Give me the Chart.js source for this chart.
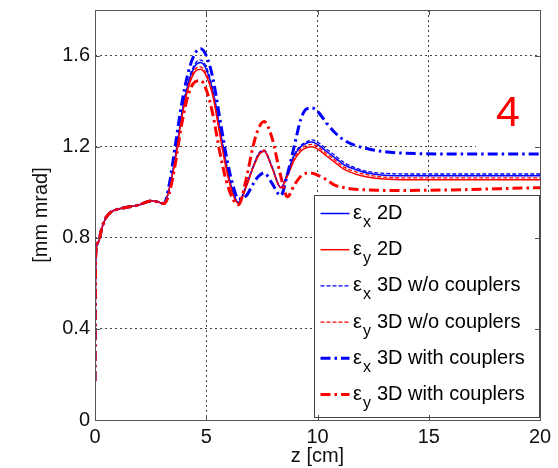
<!DOCTYPE html>
<html>
<head>
<meta charset="utf-8">
<script src="https://cdn.jsdelivr.net/npm/chart.js@4.4.1/dist/chart.umd.min.js"></script>
<style>
  html, body { margin: 0; padding: 0; background: #fff; }
  canvas { display: block; }
</style>
</head>
<body>
<canvas id="emittance" width="558" height="468"></canvas>
<script>
// z positions along the structure [cm]
const zPos = [0, 0.03, 0.15, 0.3, 0.5, 0.75, 1.0, 1.5, 2.0, 2.5, 2.8, 3.1, 3.35, 3.6, 3.9,
  4.2, 4.5, 4.75, 5.0, 5.3, 5.6, 5.9, 6.2, 6.45, 6.8, 7.1, 7.35, 7.6, 7.95, 8.35,
  8.65, 8.95, 9.25, 9.5, 9.75, 10.0, 10.4, 10.8, 11.2, 11.7, 12.3, 13.0, 14.0, 16.0, 18.0, 20.0];

// emittance [mm mrad]
const ex2D = [0.17, 0.72, 0.78, 0.84, 0.89, 0.915, 0.925, 0.935, 0.945, 0.962, 0.958, 0.95, 1.02, 1.15, 1.34,
  1.48, 1.555, 1.57, 1.54, 1.44, 1.28, 1.12, 1.0, 0.955, 1.03, 1.11, 1.165, 1.18, 1.11, 1.02,
  1.08, 1.16, 1.2, 1.215, 1.22, 1.21, 1.18, 1.15, 1.12, 1.1, 1.083, 1.075, 1.072, 1.072, 1.072, 1.072];
const ey2D = [0.17, 0.72, 0.78, 0.84, 0.89, 0.915, 0.925, 0.935, 0.945, 0.962, 0.958, 0.95, 1.02, 1.14, 1.33,
  1.46, 1.53, 1.54, 1.51, 1.42, 1.26, 1.1, 0.99, 0.95, 1.025, 1.105, 1.16, 1.18, 1.11, 1.02,
  1.07, 1.14, 1.18, 1.195, 1.2, 1.19, 1.16, 1.13, 1.1, 1.08, 1.066, 1.058, 1.055, 1.055, 1.055, 1.055];
const ex3D = [0.17, 0.72, 0.78, 0.84, 0.89, 0.915, 0.925, 0.935, 0.945, 0.962, 0.958, 0.95, 1.02, 1.15, 1.35,
  1.49, 1.565, 1.58, 1.55, 1.45, 1.29, 1.13, 1.0, 0.955, 1.03, 1.11, 1.17, 1.185, 1.115, 1.02,
  1.085, 1.165, 1.205, 1.22, 1.23, 1.22, 1.19, 1.16, 1.13, 1.107, 1.09, 1.083, 1.08, 1.08, 1.08, 1.08];
const ey3D = [0.17, 0.72, 0.78, 0.84, 0.89, 0.915, 0.925, 0.935, 0.945, 0.962, 0.958, 0.95, 1.02, 1.14, 1.33,
  1.47, 1.54, 1.55, 1.52, 1.43, 1.27, 1.11, 0.995, 0.95, 1.025, 1.11, 1.165, 1.185, 1.11, 1.02,
  1.075, 1.15, 1.19, 1.205, 1.21, 1.2, 1.17, 1.14, 1.11, 1.09, 1.075, 1.066, 1.063, 1.063, 1.063, 1.063];
const ex3Dc = [0.17, 0.72, 0.78, 0.84, 0.89, 0.915, 0.925, 0.935, 0.945, 0.962, 0.958, 0.95, 1.04, 1.2, 1.39,
  1.53, 1.61, 1.63, 1.6, 1.5, 1.33, 1.16, 1.03, 0.97, 0.985, 1.035, 1.07, 1.085, 1.04, 0.985,
  1.08, 1.2, 1.32, 1.365, 1.37, 1.355, 1.305, 1.26, 1.228, 1.205, 1.19, 1.178, 1.171, 1.168, 1.168, 1.168];
const ey3Dc = [0.17, 0.72, 0.78, 0.84, 0.89, 0.915, 0.925, 0.935, 0.945, 0.962, 0.958, 0.95, 1.0, 1.12, 1.3,
  1.43, 1.485, 1.49, 1.45, 1.34, 1.18, 1.05, 0.97, 0.945, 1.06, 1.2, 1.28, 1.31, 1.24, 1.07,
  0.98, 1.03, 1.07, 1.083, 1.083, 1.075, 1.055, 1.03, 1.02, 1.013, 1.01, 1.008, 1.008, 1.01, 1.015, 1.02];

const zTicks = [0, 5, 10, 15, 20];
const yTicks = [0, 0.4, 0.8, 1.2, 1.6];

const seriesSub = ['x', 'y', 'x', 'y', 'x', 'y'];
const seriesName = ['2D', '2D', '3D w/o couplers', '3D w/o couplers', '3D with couplers', '3D with couplers'];
const seriesData = [ex2D, ey2D, ex3D, ey3D, ex3Dc, ey3Dc];

const BLUE = '#0000ff';
const RED = '#ff0000';
const FONT = '"Liberation Sans", Arial, sans-serif';
const styles = [
  { color: BLUE, width: 1.5, dash: [] },
  { color: RED, width: 1.5, dash: [] },
  { color: BLUE, width: 1.3, dash: [4, 2] },
  { color: RED, width: 1.3, dash: [4, 2] },
  { color: BLUE, width: 3, dash: [10, 4, 2.5, 4] },
  { color: RED, width: 3, dash: [10, 4, 2.5, 4] },
];

const datasets = seriesData.map((vals, i) => ({
  label: 'ε' + seriesSub[i] + ' ' + seriesName[i],
  data: zPos.map((z, k) => ({ x: z, y: vals[k] })),
  borderColor: styles[i].color,
  borderWidth: styles[i].width,
  borderDash: styles[i].dash,
  order: seriesData.length - 1 - i,
  fill: false,
}));

// white page, the "4" tag, the in-plot legend and the matlab-style box with inward ticks
const framePlugin = {
  id: 'frame',
  beforeDraw(chart) {
    const { ctx } = chart;
    ctx.save();
    ctx.fillStyle = '#fff';
    ctx.fillRect(0, 0, chart.width, chart.height);
    ctx.restore();
  },
  beforeDatasetsDraw(chart) {
    const { ctx, chartArea: a } = chart;
    ctx.save();
    ctx.fillStyle = '#fff';
    ctx.fillRect(a.right - 64, a.top + 58, 63, 82);
    ctx.restore();
  },
  afterDatasetsDraw(chart) {
    const { ctx, chartArea: a } = chart;
    ctx.save();
    ctx.fillStyle = RED;
    ctx.font = '43px ' + FONT;
    ctx.textAlign = 'center';
    ctx.textBaseline = 'alphabetic';
    ctx.fillText('4', a.right - 32, a.top + 116);

    // legend
    const lx = a.left + 219.5, ly = a.top + 185.5;
    ctx.fillStyle = '#fff';
    ctx.fillRect(lx, ly, 225, 222);
    ctx.strokeStyle = '#444';
    ctx.lineWidth = 1;
    ctx.strokeRect(lx, ly, 225, 222);
    chart.data.datasets.forEach((ds, i) => {
      const y = ly + 18 + i * 36.2;
      ctx.strokeStyle = ds.borderColor;
      ctx.lineWidth = ds.borderWidth;
      ctx.setLineDash(ds.borderDash);
      ctx.beginPath();
      ctx.moveTo(lx + 6, y);
      ctx.lineTo(lx + 35, y);
      ctx.stroke();
      ctx.setLineDash([]);
      ctx.fillStyle = '#000';
      ctx.textAlign = 'left';
      ctx.textBaseline = 'middle';
      ctx.font = '20px ' + FONT;
      ctx.fillText('ε', lx + 38.5, y);
      ctx.font = '16px ' + FONT;
      ctx.fillText(seriesSub[i], lx + 48.5, y + 9);
      ctx.font = '20px ' + FONT;
      ctx.fillText(seriesName[i], lx + 62.5, y);
    });
    ctx.restore();
  },
  afterDraw(chart) {
    const { ctx, chartArea: a, scales } = chart;
    ctx.save();
    ctx.strokeStyle = '#555';
    ctx.lineWidth = 1;
    ctx.strokeRect(Math.round(a.left) + 0.5, Math.round(a.top) + 0.5,
      Math.round(a.right - a.left), Math.round(a.bottom - a.top));
    ctx.beginPath();
    zTicks.slice(1, -1).forEach(v => {
      const x = Math.round(scales.x.getPixelForValue(v)) + 0.5;
      ctx.moveTo(x, a.bottom); ctx.lineTo(x, a.bottom - 5);
      ctx.moveTo(x, a.top); ctx.lineTo(x, a.top + 5);
    });
    yTicks.slice(1).forEach(v => {
      const y = Math.round(scales.y.getPixelForValue(v)) + 0.5;
      ctx.moveTo(a.left, y); ctx.lineTo(a.left + 5, y);
      ctx.moveTo(a.right, y); ctx.lineTo(a.right - 5, y);
    });
    ctx.stroke();
    ctx.restore();
  },
};

const gridColor = (ctx) => (ctx.index === 0 || ctx.tick.value === 20 ? 'rgba(0,0,0,0)' : '#444');

new Chart(document.getElementById('emittance'), {
  type: 'line',
  data: { datasets },
  options: {
    responsive: false,
    animation: false,
    layout: { padding: { top: 10, right: 18, left: 0, bottom: 0 } },
    elements: {
      point: { radius: 0 },
      line: { cubicInterpolationMode: 'monotone' },
    },
    plugins: {
      legend: { display: false },
      tooltip: { enabled: false },
    },
    scales: {
      x: {
        type: 'linear',
        min: 0,
        max: 20,
        afterBuildTicks: (s) => { s.ticks = zTicks.map((v) => ({ value: v })); },
        afterFit: (s) => { s.height = 48; },
        grid: { drawTicks: false, color: gridColor, lineWidth: 1 },
        border: { display: false, dash: [2, 3] },
        ticks: { padding: 5, color: '#111', font: { family: FONT, size: 20 }, maxRotation: 0 },
        title: { display: true, text: 'z [cm]', color: '#111', font: { family: FONT, size: 20 }, padding: { top: 0, bottom: 0 } },
      },
      y: {
        min: 0,
        max: 1.8,
        afterBuildTicks: (s) => { s.ticks = yTicks.map((v) => ({ value: v })); },
        afterFit: (s) => { s.width = 95; s.paddingTop = 0; s.paddingBottom = 0; },
        grid: { drawTicks: false, color: (ctx) => (ctx.index === 0 ? 'rgba(0,0,0,0)' : '#444'), lineWidth: 1 },
        border: { display: false, dash: [2, 3] },
        ticks: { padding: 5, color: '#111', font: { family: FONT, size: 20 }, callback: (v) => String(v) },
        title: { display: true, text: '[mm mrad]', color: '#111', font: { family: FONT, size: 20 }, padding: { top: 29, bottom: 0 } },
      },
    },
  },
  plugins: [framePlugin],
});
</script>
</body>
</html>
